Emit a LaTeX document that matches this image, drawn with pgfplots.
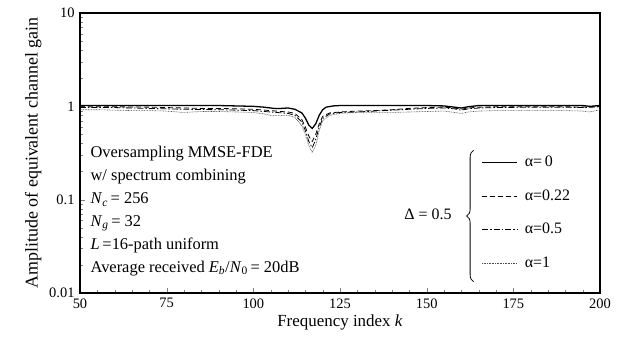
\documentclass[border=0pt]{standalone}
\usepackage{fontspec}
\setmainfont{Liberation Serif}
\usepackage{pgfplots}
\pgfplotsset{compat=1.18}
\usetikzlibrary{decorations.pathreplacing}
\begin{document}
\fontsize{16}{18}\selectfont
\begin{tikzpicture}
\path[use as bounding box] (-80bp,-47bp) rectangle (558bp,293bp);
\begin{axis}[
  at={(0,0)}, anchor=south west,
  scale only axis, width=520bp, height=280bp,
  xmin=50, xmax=200, ymode=log, ymin=0.01, ymax=10,
  xtick={50,75,...,200}, minor x tick num=4,
  ytick={0.01,0.1,1,10}, yticklabels={0.01,0.1,1,10},
  tick align=inside, xtick pos=left, ytick pos=left,
  major tick length=5bp, minor tick length=3bp,
  tick label style={font=\fontsize{14.5}{16}\selectfont},
  /pgf/number format/assume math mode=true,
  axis line style={line width=1.2pt},
  xlabel={Frequency index \textit{k}},
  ylabel={Amplitude of equivalent channel gain},
  xlabel style={font=\fontsize{17}{19}\selectfont, yshift=4bp},
  ylabel style={font=\fontsize{18}{20}\selectfont, yshift=-3bp},
  clip=false,
  legend style={at={(rel axis cs:0.766,0.503)}, anchor=north west, draw=none, fill=none,
    font=\fontsize{16}{18}\selectfont, row sep=16.5bp},
  legend cell align=left,
  legend image code/.code={\draw[#1] (0bp,0bp) -- (35bp,0bp); \path (40bp,0bp);},
]
\addplot[black, line width=1.3pt] coordinates {
(50,1.02)(55,1.02)(60,1.02)(65,1.02)(70,1.02)(75,1.02)(80,1.02)(85,1.02)(90,1.02)(95,1.01)
(100,1.0)(103,0.98)(106,0.95)(108,0.95)(110,0.96)(112,0.93)(114,0.85)(115,0.75)(116,0.63)
(117,0.58)(118,0.65)(119,0.8)(120,0.92)(121,0.98)(123,1.01)(125,1.02)(130,1.02)(135,1.02)
(140,1.02)(145,1.02)(150,1.02)(155,1.01)(158,0.98)(160,0.96)(162,0.99)(165,1.02)(170,1.02)
(175,1.02)(180,1.02)(185,1.02)(190,1.02)(195,1.02)(197,1.0)(200,1.02)};
\addlegendentry{α=\,0}
\addplot[black, line width=0.8pt, dash pattern=on 5bp off 3bp] coordinates {
(50,0.99)(60,0.99)(70,0.98)(80,0.96)(85,0.95)(90,0.95)(95,0.94)(100,0.93)(105,0.9)(108,0.88)
(110,0.87)(112,0.84)(114,0.72)(115,0.6)(116,0.48)(117,0.42)(118,0.5)(119,0.65)(120,0.78)
(122,0.85)(125,0.87)(130,0.89)(135,0.9)(140,0.92)(145,0.95)(150,0.97)(155,0.98)(158,0.96)
(160,0.93)(162,0.96)(165,0.98)(170,0.99)(180,0.99)(190,0.99)(195,0.98)(200,1.0)};
\addlegendentry{α=0.22}
\addplot[black, line width=0.8pt, dash pattern=on 6bp off 2bp on 1.5bp off 2bp] coordinates {
(50,0.97)(60,0.97)(70,0.95)(80,0.93)(90,0.92)(100,0.9)(105,0.87)(110,0.84)(112,0.8)(114,0.68)
(115,0.55)(116,0.42)(117,0.36)(118,0.44)(119,0.6)(120,0.74)(122,0.83)(125,0.86)(130,0.87)
(135,0.89)(140,0.91)(145,0.93)(150,0.95)(155,0.96)(158,0.94)(160,0.91)(162,0.94)(165,0.96)
(170,0.97)(180,0.98)(190,0.98)(195,0.97)(200,0.99)};
\addlegendentry{α=0.5}
\addplot[black!70, line width=0.6pt, dash pattern=on 0.8bp off 0.8bp] coordinates {
(50,0.92)(55,0.92)(60,0.91)(65,0.9)(70,0.9)(75,0.89)(78,0.87)(80,0.86)(85,0.88)(90,0.88)
(95,0.87)(100,0.86)(103,0.83)(105,0.8)(108,0.8)(110,0.8)(112,0.76)(114,0.62)(115,0.5)
(116,0.38)(117,0.32)(118,0.38)(119,0.55)(120,0.7)(122,0.8)(125,0.84)(130,0.86)(135,0.86)
(140,0.86)(145,0.87)(150,0.88)(155,0.89)(158,0.86)(160,0.84)(162,0.87)(165,0.89)(170,0.9)
(175,0.9)(180,0.9)(185,0.9)(190,0.9)(195,0.89)(197,0.87)(200,0.92)};
\addlegendentry{α=1}
\node[anchor=north west, align=left, inner sep=0pt, font=\fontsize{16.5}{23}\selectfont]
  at (rel axis cs:0.02,0.525) {Oversampling MMSE-FDE\\ w/ spectrum combining\\
  \textit{N}\textsubscript{\textit{c}}\,= 256\\
  \textit{N}\textsubscript{\textit{g}}\,= 32\\
  \textit{L}\,=16-path uniform\\
  Average received \textit{E}\textsubscript{\textit{b}}/\textit{N}\textsubscript{0}\,= 20dB};
\draw[line width=0.8pt, decorate, decoration={brace, amplitude=7bp, mirror, raise=0pt}]
  (rel axis cs:0.757,0.51) -- (rel axis cs:0.757,0.04);
\node[anchor=east, font=\fontsize{16}{18}\selectfont] at (rel axis cs:0.725,0.28) {Δ = 0.5};
\end{axis}
\end{tikzpicture}
\end{document}
